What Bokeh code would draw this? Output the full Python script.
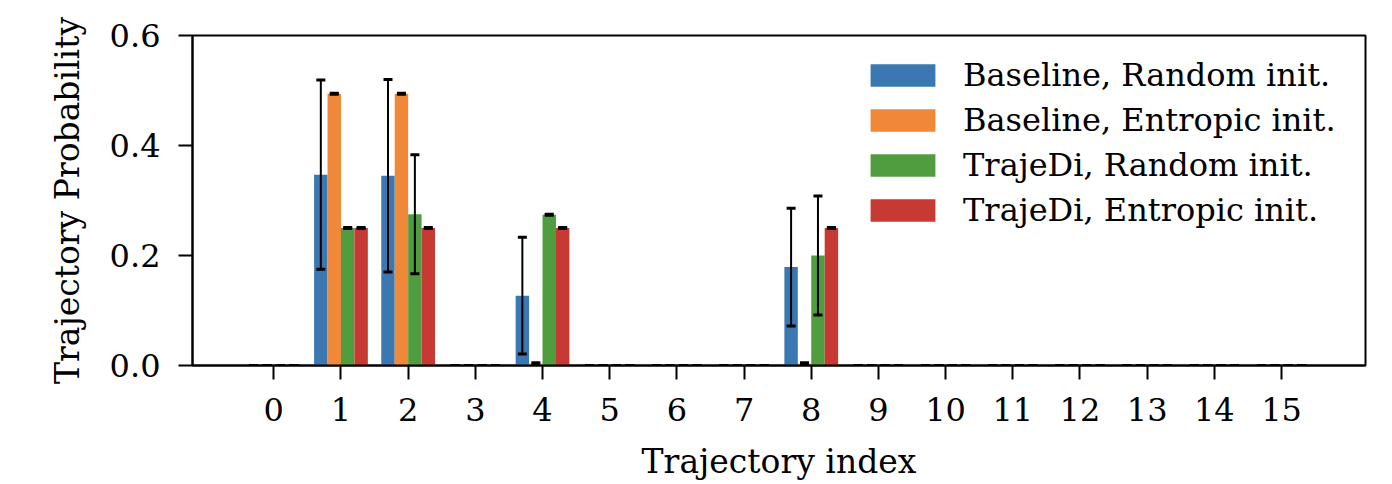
import numpy as np
from bokeh.plotting import figure
from bokeh.models import Range1d, FixedTicker, Whisker, TeeHead, ColumnDataSource, Legend, LegendItem
from bokeh.embed import file_html
from bokeh.resources import INLINE

idx = list(range(16))
tick_labels = [str(i) for i in idx]
series_names = ["Baseline, Random init.", "Baseline, Entropic init.",
                "TrajeDi, Random init.", "TrajeDi, Entropic init."]
baseline_random = [0, 0.347, 0.345, 0, 0.127, 0, 0, 0, 0.179, 0, 0, 0, 0, 0, 0, 0]
baseline_random_err = [0, 0.172, 0.175, 0, 0.106, 0, 0, 0, 0.107, 0, 0, 0, 0, 0, 0, 0]
baseline_entropic = [0, 0.494, 0.494, 0, 0.003, 0, 0, 0, 0.003, 0, 0, 0, 0, 0, 0, 0]
baseline_entropic_err = [0, 0.001, 0.001, 0, 0.002, 0, 0, 0, 0.002, 0, 0, 0, 0, 0, 0, 0]
trajedi_random = [0, 0.25, 0.275, 0, 0.274, 0, 0, 0, 0.2, 0, 0, 0, 0, 0, 0, 0]
trajedi_random_err = [0, 0.001, 0.108, 0, 0.001, 0, 0, 0, 0.108, 0, 0, 0, 0, 0, 0, 0]
trajedi_entropic = [0, 0.25, 0.25, 0, 0.25, 0, 0, 0, 0.25, 0, 0, 0, 0, 0, 0, 0]
trajedi_entropic_err = [0, 0.001, 0.001, 0, 0.001, 0, 0, 0, 0.001, 0, 0, 0, 0, 0, 0, 0]

values = [baseline_random, baseline_entropic, trajedi_random, trajedi_entropic]
errors = [baseline_random_err, baseline_entropic_err, trajedi_random_err, trajedi_entropic_err]
colors = ["#3b78b1", "#ef8838", "#4f9d3f", "#c63a33"]
offsets = [-0.3, -0.1, 0.1, 0.3]
bar_w = 0.2

FONT = "DejaVu Serif"
FS = "32px"
FS_LABEL = "33px"

p = figure(width=1392, height=484, output_backend="svg", toolbar_location=None,
           x_range=Range1d(-1.21, 16.25), y_range=Range1d(0, 0.6),
           min_border_left=192, min_border_right=27, min_border_top=35, min_border_bottom=119)
p.grid.visible = False
p.background_fill_color = "white"
p.border_fill_color = "white"
p.outline_line_color = "black"
p.outline_line_width = 2
p.outline_line_alpha = 1

items = []
for name, vals, errs, col, off in zip(series_names, values, errors, colors, offsets):
    x = np.array(idx, dtype=float) + off
    v = np.array(vals)
    e = np.array(errs)
    src = ColumnDataSource(dict(x=x, top=v, upper=v + e, lower=v - e))
    r = p.vbar(x="x", top="top", width=bar_w, source=src, fill_color=col, line_color=None)
    items.append(LegendItem(label=name, renderers=[r]))
    w = Whisker(base="x", upper="upper", lower="lower", source=src, level="overlay",
                line_color="black", line_width=2,
                upper_head=TeeHead(size=9, line_color="black", line_width=3),
                lower_head=TeeHead(size=9, line_color="black", line_width=3))
    p.add_layout(w)

legend = Legend(items=items, location=(670, 136), orientation="vertical",
                label_text_font=FONT, label_text_font_size=FS, label_text_color="black",
                glyph_width=81, glyph_height=28, label_height=22, spacing=7,
                label_standoff=20, padding=0, margin=0,
                border_line_color=None, background_fill_alpha=0)
p.add_layout(legend, "center")

for ax in (p.xaxis[0], p.yaxis[0]):
    ax.axis_line_color = "black"
    ax.axis_line_width = 2
    ax.major_tick_line_color = "black"
    ax.major_tick_line_width = 2
    ax.major_tick_out = 14
    ax.major_tick_in = 0
    ax.minor_tick_line_color = None
    ax.major_label_text_font = FONT
    ax.major_label_text_font_size = FS
    ax.major_label_text_color = "black"
    ax.axis_label_text_font = FONT
    ax.axis_label_text_font_size = FS_LABEL
    ax.axis_label_text_font_style = "normal"
    ax.axis_label_text_color = "black"

p.xaxis.ticker = FixedTicker(ticks=idx)
p.xaxis.major_label_overrides = {i: t for i, t in zip(idx, tick_labels)}
p.xaxis.major_label_standoff = 18
p.xaxis.axis_label = "Trajectory index"
p.xaxis.axis_label_standoff = 18

y_ticks = [0.0, 0.2, 0.4, 0.6]
p.yaxis.ticker = FixedTicker(ticks=y_ticks)
p.yaxis.major_label_overrides = {t: f"{t:.1f}" for t in y_ticks}
p.yaxis.major_label_standoff = 18
p.yaxis.axis_label = "Trajectory Probability"
p.yaxis.axis_label_standoff = 20

open("out.html", "w").write(file_html(p, INLINE))
